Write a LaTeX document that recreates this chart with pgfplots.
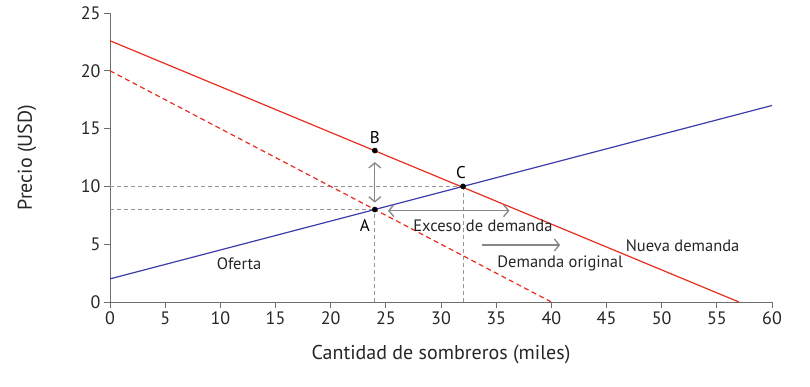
\documentclass[border=0pt]{standalone}
\usepackage{pgfplots}
\pgfplotsset{compat=1.18}
\usetikzlibrary{arrows.meta}
\usepackage{fontspec}
\setmainfont{PT Sans}
\definecolor{dred}{RGB}{230,45,30}
\definecolor{sblue}{RGB}{60,60,170}
\definecolor{dgrey}{RGB}{150,150,150}
\definecolor{agrey}{RGB}{135,135,135}
\definecolor{axgrey}{RGB}{110,110,110}
\begin{document}
\begin{tikzpicture}[x=1pt,y=1pt]
\useasboundingbox (-110,-84) rectangle (700,302);
\begin{axis}[
  at={(0,0)}, anchor=south west,
  scale only axis, width=662pt, height=289pt,
  xmin=0, xmax=60, ymin=0, ymax=25,
  axis lines*=left,
  axis line style={axgrey, line width=0.9pt},
  tick style={axgrey, line width=0.9pt},
  tick align=outside, major tick length=6pt,
  xtick={0,5,...,60}, ytick={0,5,...,25},
  /pgf/number format/assume math mode=true,
  tick label style={font=\fontsize{18}{21}\selectfont, text=black!85},
  xlabel={Cantidad de sombreros (miles)},
  ylabel={Precio (USD)},
  label style={font=\fontsize{20}{24}\selectfont, text=black!85},
  xlabel style={at={(axis description cs:0.5,0)}, anchor=center, yshift=-53pt},
  ylabel style={at={(axis description cs:0,0.5)}, anchor=center, yshift=83pt},
  clip=false,
]
% guides
\addplot[dgrey, dash pattern=on 4pt off 3pt, line width=0.9pt] coordinates {(0,10) (32,10)};
\addplot[dgrey, dash pattern=on 4pt off 3pt, line width=0.9pt] coordinates {(0,8) (24,8)};
\addplot[dgrey, dash pattern=on 4pt off 3pt, line width=0.9pt] coordinates {(24,0) (24,8)};
\addplot[dgrey, dash pattern=on 4pt off 3pt, line width=0.9pt] coordinates {(32,0) (32,10)};
% lines
\addplot[sblue, line width=1.2pt] coordinates {(0,2) (60,17)};
\addplot[dred, dash pattern=on 5pt off 3.5pt, line width=1.2pt] coordinates {(0,20) (40,0)};
\addplot[dred, line width=1.2pt] coordinates {(0,22.6) (57,0)};
% arrows
\addplot[agrey, line width=1.3pt, {Straight Barb[length=5pt,width=12pt]}-{Straight Barb[length=5pt,width=12pt]}] coordinates {(24,12.1) (24,8.6)};
\addplot[agrey, line width=1.3pt, {Straight Barb[length=5pt,width=12pt]}-{Straight Barb[length=5pt,width=12pt]}] coordinates {(25.2,7.9) (36.2,7.9)};
\addplot[agrey, line width=1.3pt, -{Straight Barb[length=5pt,width=12pt]}] coordinates {(33.7,4.93) (40.8,4.93)};
% points
\addplot[only marks, mark=*, mark size=2.6pt, black] coordinates {(24,8) (24,13.1) (32,10)};
% labels
\node[font=\fontsize{17}{20}\selectfont] at (axis cs:24,14.2) {B};
\node[font=\fontsize{17}{20}\selectfont] at (axis cs:31.8,11.2) {C};
\node[font=\fontsize{17}{20}\selectfont] at (axis cs:23.1,6.6) {A};
\node[font=\fontsize{16.5}{20}\selectfont, text=black!85] at (axis cs:33.8,6.6) {Exceso de demanda};
\node[font=\fontsize{16.5}{20}\selectfont, text=black!85] at (axis cs:40.8,3.3) {Demanda original};
\node[font=\fontsize{16.5}{20}\selectfont, text=black!85] at (axis cs:51.9,4.9) {Nueva demanda};
\node[font=\fontsize{16.5}{20}\selectfont, text=black!85] at (axis cs:11.7,3.3) {Oferta};
\end{axis}
\end{tikzpicture}
\end{document}
